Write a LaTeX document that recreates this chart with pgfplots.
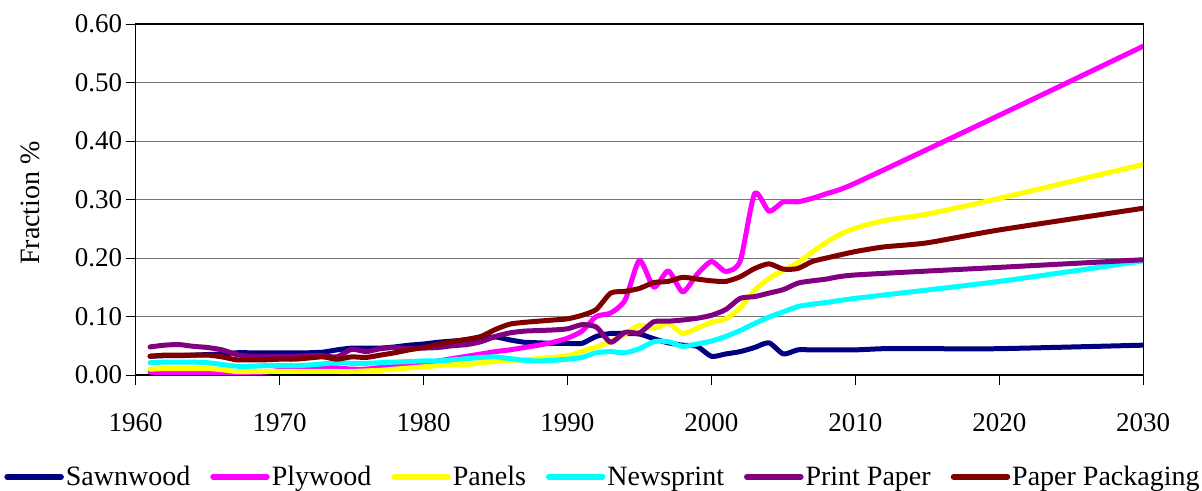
\documentclass[border=0pt]{standalone}
\usepackage{fontspec}
\setmainfont{Liberation Serif}
\usepackage{pgfplots}
\pgfplotsset{compat=1.18}
\definecolor{cSaw}{HTML}{000080}
\definecolor{cPly}{HTML}{FF00FF}
\definecolor{cPan}{HTML}{FFFF00}
\definecolor{cNew}{HTML}{00FFFF}
\definecolor{cPri}{HTML}{800080}
\definecolor{cPac}{HTML}{800000}
\begin{document}
\begin{tikzpicture}
\begin{axis}[
  scale only axis, width=1007.6bp, height=351bp,
  xmin=1960, xmax=2030, ymin=0, ymax=0.6,
  xtick={1960,1970,1980,1990,2000,2010,2020,2030},
  ytick={0,0.1,0.2,0.3,0.4,0.5,0.6},
  tick pos=left, tick align=outside, major tick length=10bp,
  tick style={black, line width=0.9bp},
  axis line style={black, line width=1.2bp},
  ymajorgrids, grid style={color=black!55, line width=0.9bp},
  /pgf/number format/assume math mode=true,
  yticklabel style={/pgf/number format/fixed, /pgf/number format/fixed zerofill, /pgf/number format/precision=2},
  xticklabel style={/pgf/number format/1000 sep={}, yshift=-25bp},
  ticklabel style={font=\fontsize{27bp}{30bp}\selectfont, text=black},
  ylabel={Fraction \%},
  every axis y label/.style={at={(axis description cs:-0.105,0.49)}, rotate=90, anchor=center, font=\fontsize{28bp}{32bp}\selectfont},
  legend columns=-1,
  legend style={draw=none, fill=none, at={(axis description cs:0.4638,-0.29)}, anchor=center,
    font=\fontsize{28bp}{32bp}\selectfont, inner sep=0pt,
    /tikz/every even column/.append style={column sep=18bp}},
  legend image code/.code={\draw[#1, line width=5.5bp, line cap=round] (0bp,0bp) -- (54bp,0bp);},
  every axis plot/.append style={line width=5bp, line join=round, line cap=round, smooth, tension=0.4},
]
\addplot[cSaw] coordinates {
(1961,0.032)(1962,0.033)(1963,0.033)(1964,0.034)(1965,0.035)(1966,0.036)(1967,0.038)(1968,0.038)(1969,0.038)(1970,0.038)
(1971,0.038)(1972,0.038)(1973,0.039)(1974,0.043)(1975,0.046)(1976,0.046)(1977,0.046)(1978,0.048)(1979,0.051)(1980,0.053)
(1981,0.056)(1982,0.058)(1983,0.060)(1984,0.062)(1985,0.065)(1986,0.060)(1987,0.056)(1988,0.055)(1989,0.054)(1990,0.054)
(1991,0.054)(1992,0.066)(1993,0.071)(1994,0.071)(1995,0.070)(1996,0.062)(1997,0.055)(1998,0.051)(1999,0.049)(2000,0.032)
(2001,0.036)(2002,0.040)(2003,0.047)(2004,0.055)(2005,0.036)(2006,0.043)(2007,0.043)(2010,0.043)(2012,0.045)(2015,0.045)
(2020,0.045)(2030,0.051)};
\addlegendentry{Sawnwood}
\addplot[cPly] coordinates {
(1961,0.005)(1962,0.004)(1963,0.004)(1964,0.004)(1965,0.004)(1966,0.004)(1967,0.004)(1968,0.004)(1969,0.005)(1970,0.008)
(1971,0.013)(1972,0.013)(1973,0.013)(1974,0.012)(1975,0.010)(1976,0.010)(1977,0.013)(1978,0.016)(1979,0.018)(1980,0.020)
(1981,0.024)(1982,0.028)(1983,0.032)(1984,0.036)(1985,0.040)(1986,0.043)(1987,0.047)(1988,0.051)(1989,0.056)(1990,0.063)
(1991,0.075)(1992,0.100)(1993,0.106)(1994,0.128)(1995,0.196)(1996,0.150)(1997,0.178)(1998,0.142)(1999,0.172)(2000,0.194)
(2001,0.177)(2002,0.195)(2003,0.310)(2004,0.280)(2005,0.296)(2006,0.296)(2007,0.302)(2008,0.310)(2010,0.328)(2020,0.444)
(2030,0.562)};
\addlegendentry{Plywood}
\addplot[cPan] coordinates {
(1961,0.010)(1962,0.011)(1963,0.011)(1964,0.011)(1965,0.011)(1966,0.009)(1967,0.006)(1968,0.006)(1969,0.006)(1970,0.006)
(1971,0.006)(1972,0.006)(1973,0.006)(1974,0.006)(1975,0.006)(1976,0.007)(1977,0.008)(1978,0.010)(1979,0.012)(1980,0.014)
(1981,0.016)(1982,0.018)(1983,0.018)(1984,0.021)(1985,0.023)(1986,0.025)(1987,0.026)(1988,0.028)(1989,0.030)(1990,0.033)
(1991,0.040)(1992,0.048)(1993,0.057)(1994,0.070)(1995,0.085)(1996,0.080)(1997,0.088)(1998,0.071)(1999,0.080)(2000,0.090)
(2001,0.096)(2002,0.115)(2003,0.145)(2004,0.165)(2005,0.179)(2006,0.192)(2007,0.210)(2008,0.227)(2009,0.241)(2010,0.251)
(2012,0.264)(2015,0.275)(2020,0.302)(2030,0.360)};
\addlegendentry{Panels}
\addplot[cNew] coordinates {
(1961,0.021)(1962,0.022)(1963,0.022)(1964,0.022)(1965,0.021)(1966,0.018)(1967,0.015)(1968,0.015)(1969,0.016)(1970,0.016)
(1971,0.016)(1972,0.017)(1973,0.019)(1974,0.021)(1975,0.020)(1976,0.020)(1977,0.021)(1978,0.022)(1979,0.023)(1980,0.024)
(1981,0.024)(1982,0.026)(1983,0.028)(1984,0.030)(1985,0.031)(1986,0.028)(1987,0.025)(1988,0.024)(1989,0.025)(1990,0.027)
(1991,0.030)(1992,0.038)(1993,0.040)(1994,0.038)(1995,0.045)(1996,0.057)(1997,0.057)(1998,0.049)(1999,0.053)(2000,0.058)
(2001,0.066)(2002,0.076)(2003,0.088)(2004,0.099)(2005,0.108)(2006,0.117)(2007,0.121)(2008,0.124)(2010,0.131)(2020,0.160)
(2030,0.195)};
\addlegendentry{Newsprint}
\addplot[cPri] coordinates {
(1961,0.048)(1962,0.051)(1963,0.052)(1964,0.049)(1965,0.047)(1966,0.043)(1967,0.035)(1968,0.032)(1969,0.032)(1970,0.032)
(1971,0.032)(1972,0.033)(1973,0.033)(1974,0.031)(1975,0.044)(1976,0.040)(1977,0.045)(1978,0.047)(1979,0.045)(1980,0.046)
(1981,0.047)(1982,0.050)(1983,0.052)(1984,0.057)(1985,0.066)(1986,0.072)(1987,0.075)(1988,0.076)(1989,0.077)(1990,0.079)
(1991,0.086)(1992,0.082)(1993,0.056)(1994,0.073)(1995,0.072)(1996,0.091)(1997,0.092)(1998,0.094)(1999,0.097)(2000,0.102)
(2001,0.112)(2002,0.131)(2003,0.134)(2004,0.140)(2005,0.146)(2006,0.157)(2007,0.161)(2008,0.164)(2010,0.171)(2020,0.184)
(2030,0.197)};
\addlegendentry{Print Paper}
\addplot[cPac] coordinates {
(1961,0.032)(1962,0.034)(1963,0.034)(1964,0.034)(1965,0.034)(1966,0.031)(1967,0.026)(1968,0.026)(1969,0.026)(1970,0.027)
(1971,0.027)(1972,0.029)(1973,0.031)(1974,0.027)(1975,0.031)(1976,0.030)(1977,0.034)(1978,0.038)(1979,0.043)(1980,0.047)
(1981,0.052)(1982,0.057)(1983,0.061)(1984,0.066)(1985,0.078)(1986,0.087)(1987,0.090)(1988,0.092)(1989,0.094)(1990,0.096)
(1991,0.102)(1992,0.112)(1993,0.140)(1994,0.143)(1995,0.148)(1996,0.158)(1997,0.160)(1998,0.167)(1999,0.164)(2000,0.161)
(2001,0.160)(2002,0.168)(2003,0.182)(2004,0.190)(2005,0.181)(2006,0.182)(2007,0.194)(2008,0.200)(2010,0.211)(2012,0.219)
(2015,0.226)(2020,0.248)(2030,0.285)};
\addlegendentry{Paper Packaging}
\end{axis}
\pgfresetboundingbox
\path[use as bounding box] (-135.7bp,-116bp) rectangle (1066.3bp,375bp);
\end{tikzpicture}
\end{document}
